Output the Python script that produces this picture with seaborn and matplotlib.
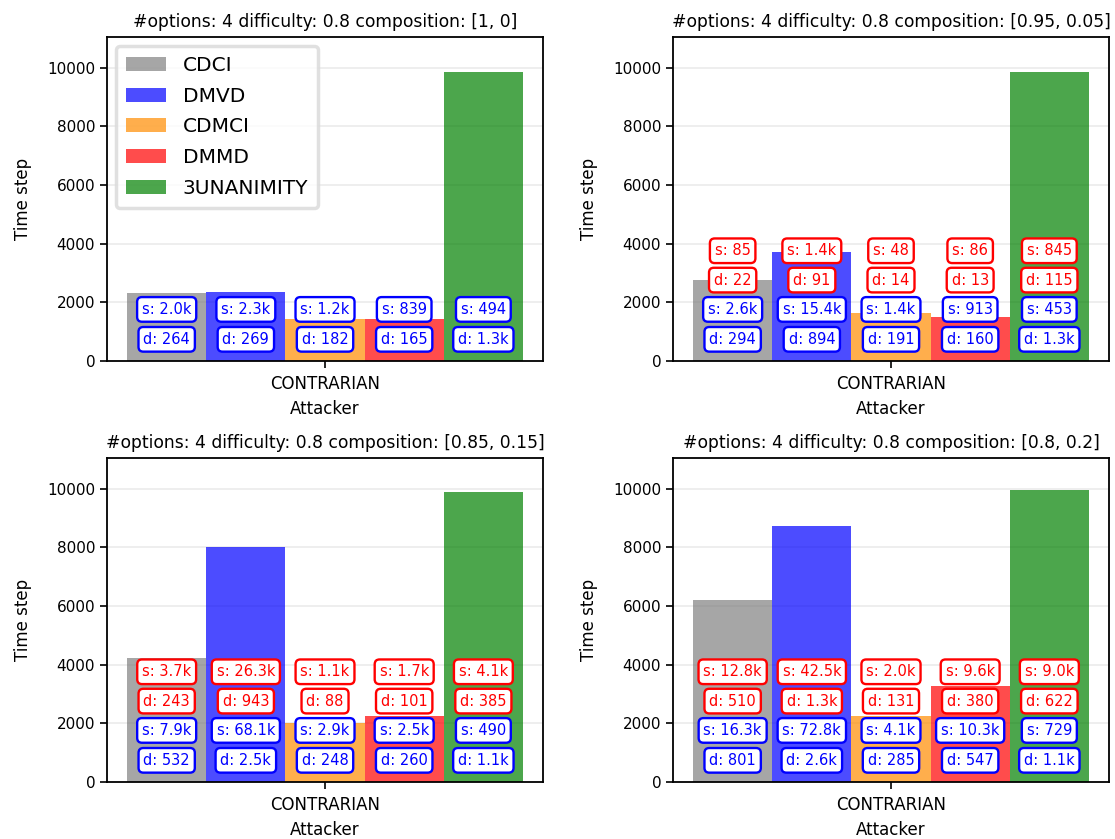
import matplotlib
matplotlib.use("Agg")
import matplotlib.pyplot as plt
import seaborn as sns
import pandas as pd

algorithms = ["CDCI", "DMVD", "CDMCI", "DMMD", "3UNANIMITY"]
colors = ["gray", "blue", "darkorange", "red", "green"]
attacker = "CONTRARIAN"

titles = [
    "#options: 4 difficulty: 0.8 composition: [1, 0]",
    "#options: 4 difficulty: 0.8 composition: [0.95, 0.05]",
    "#options: 4 difficulty: 0.8 composition: [0.85, 0.15]",
    "#options: 4 difficulty: 0.8 composition: [0.8, 0.2]",
]

heights_1 = [2310, 2370, 1450, 1420, 9840]
heights_2 = [2750, 3720, 1650, 1500, 9860]
heights_3 = [4245, 8000, 2000, 2260, 9885]
heights_4 = [6210, 8720, 2240, 3260, 9975]

blue_s_1 = ["2.0k", "2.3k", "1.2k", "839", "494"]
blue_d_1 = ["264", "269", "182", "165", "1.3k"]
red_s_1 = None
red_d_1 = None

blue_s_2 = ["2.6k", "15.4k", "1.4k", "913", "453"]
blue_d_2 = ["294", "894", "191", "160", "1.3k"]
red_s_2 = ["85", "1.4k", "48", "86", "845"]
red_d_2 = ["22", "91", "14", "13", "115"]

blue_s_3 = ["7.9k", "68.1k", "2.9k", "2.5k", "490"]
blue_d_3 = ["532", "2.5k", "248", "260", "1.1k"]
red_s_3 = ["3.7k", "26.3k", "1.1k", "1.7k", "4.1k"]
red_d_3 = ["243", "943", "88", "101", "385"]

blue_s_4 = ["16.3k", "72.8k", "4.1k", "10.3k", "729"]
blue_d_4 = ["801", "2.6k", "285", "547", "1.1k"]
red_s_4 = ["12.8k", "42.5k", "2.0k", "9.6k", "9.0k"]
red_d_4 = ["510", "1.3k", "131", "380", "622"]

yticks = [0, 2000, 4000, 6000, 8000, 10000]

panels = [
    (heights_1, blue_s_1, blue_d_1, red_s_1, red_d_1),
    (heights_2, blue_s_2, blue_d_2, red_s_2, red_d_2),
    (heights_3, blue_s_3, blue_d_3, red_s_3, red_d_3),
    (heights_4, blue_s_4, blue_d_4, red_s_4, red_d_4),
]

plt.rcParams["font.family"] = ["DejaVu Sans"]

fig = plt.figure(figsize=(11.15, 8.39), dpi=100)
positions = [
    [0.0960, 0.5697, 0.3910, 0.3862],
    [0.6036, 0.5697, 0.3910, 0.3862],
    [0.0960, 0.0679, 0.3910, 0.3862],
    [0.6036, 0.0679, 0.3910, 0.3862],
]

levels = [740, 1760, 2760, 3760]

for i, (heights, bs, bd, rs, rd) in enumerate(panels):
    ax = fig.add_axes(positions[i])
    df = pd.DataFrame({
        "Attacker": [attacker] * len(algorithms),
        "Algorithm": algorithms,
        "Time step": heights,
    })
    ax.set_axisbelow(True)
    ax.grid(axis="y", color="0.93", linewidth=1.3)
    sns.barplot(data=df, x="Attacker", y="Time step", hue="Algorithm",
                hue_order=algorithms, palette=colors, alpha=0.7,
                saturation=1, width=0.908, linewidth=0,
                legend=(i == 0), ax=ax)
    ax.set_ylim(0, 11050)
    ax.set_xlim(-0.5, 0.5)
    ax.set_yticks(yticks)
    ax.set_yticklabels([str(t) for t in yticks])
    ax.tick_params(axis="y", labelsize=11, length=5, width=1.2)
    ax.tick_params(axis="x", labelsize=12, length=5, width=1.2, pad=5)
    for sp in ax.spines.values():
        sp.set_linewidth(1.3)
        sp.set_color("black")
    ax.set_title(titles[i], fontsize=12.3, pad=7)
    ax.set_xlabel("Attacker", fontsize=12, labelpad=5)
    ax.set_ylabel("Time step", fontsize=12, labelpad=11)

    bars = [p for p in ax.patches if p.get_height() > 0][:len(algorithms)]
    bars = sorted(bars, key=lambda p: p.get_x())
    rows = [(bd, "blue", levels[0], "d: "), (bs, "blue", levels[1], "s: ")]
    if rs is not None:
        rows += [(rd, "red", levels[2], "d: "), (rs, "red", levels[3], "s: ")]
    for labels, col, lev, prefix in rows:
        for p, lab in zip(bars, labels):
            cx = p.get_x() + p.get_width() / 2
            ax.text(cx, lev, prefix + lab, ha="center", va="center",
                    fontsize=10.5, color=col,
                    bbox=dict(boxstyle="round,pad=0.33", fc="white",
                              ec=col, lw=1.7))

    if i == 0:
        leg = ax.legend(loc="upper left", fontsize=14.5, title=None,
                        borderaxespad=0.45, handlelength=2.0,
                        handleheight=0.7, labelspacing=0.58,
                        borderpad=0.5)
        fr = leg.get_frame()
        fr.set_linewidth(2.5)
        fr.set_edgecolor("0.85")
        for h in leg.legend_handles:
            h.set_alpha(0.7)

fig.savefig("out.png", dpi=100)
